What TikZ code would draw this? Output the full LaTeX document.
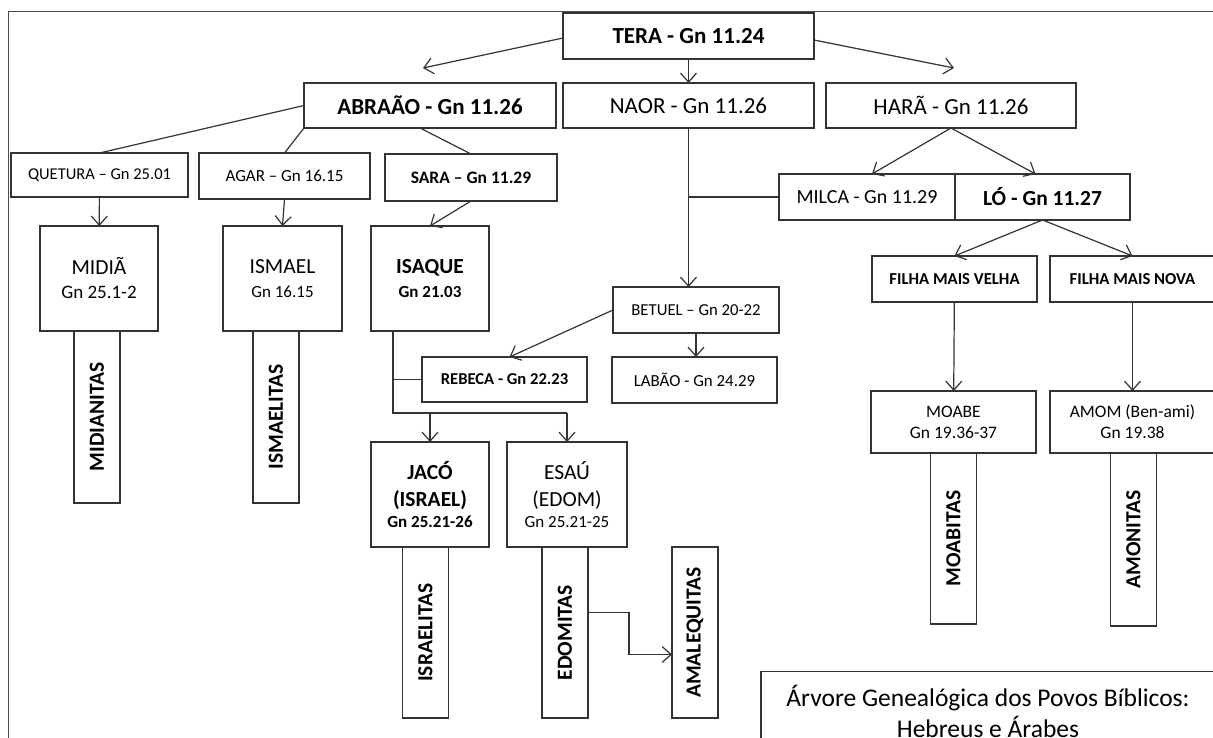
\documentclass[tikz,border=0pt]{standalone}
\usepackage{fontspec}
\setmainfont{Carlito}
\usepackage{graphicx}
\usetikzlibrary{arrows.meta,positioning}
\newcommand\fsz[2]{\fontsize{#1}{#2}\selectfont}
\tikzset{
  box/.style={draw=black!80,line width=1.2pt,inner sep=0pt,outer sep=0pt,align=center,fill=white},
  sz/.style 2 args={minimum width=#1,minimum height=#2},
  bar/.style={box,sz={46}{171},font=\fsz{21.5}{26}\bfseries},
  lnk/.style={draw=black!80,line width=1.2pt},
  arr/.style={lnk,-{Straight Barb[length=9pt,width=16pt]}},
}

\begin{document}
\begin{tikzpicture}[x=1pt,y=-1pt]
\useasboundingbox (0,0) rectangle (1213,738);
\draw[black!70,line width=1pt] (8,12) rectangle (1230,760);

\node[box,sz={251}{46},font=\fsz{23}{28}\bfseries] (tera) at (688.5,36) {TERA - Gn 11.24};
\node[box,sz={252}{45},font=\fsz{23}{28}\bfseries] (abraao) at (430,105.5) {ABRAÃO - Gn 11.26};
\node[box,sz={251}{45},font=\fsz{23}{28}] (naor) at (688.5,105.5) {NAOR - Gn 11.26};
\node[box,sz={250}{45},font=\fsz{23}{28}] (hara) at (951,105.5) {HARÃ - Gn 11.26};

\node[box,sz={177}{44},font=\fsz{16.5}{20}] (quetura) at (99.5,175) {QUETURA – Gn 25.01};
\node[box,sz={171}{46},font=\fsz{17}{20}] (agar) at (284.5,176) {AGAR – Gn 16.15};
\node[box,sz={172}{47},font=\fsz{17.5}{21}\bfseries] (sara) at (471,177.5) {SARA – Gn 11.29};
\node[box,sz={176}{46},font=\fsz{20}{24}] (milca) at (867,197) {MILCA - Gn 11.29};
\node[box,sz={175}{46},font=\fsz{21.5}{26}\bfseries] (lo) at (1042.5,197) {LÓ - Gn 11.27};

\node[box,sz={118}{105},font=\fsz{21.5}{24}] (midia) at (99,278.5) {MIDIÃ\\\fsz{19}{24}Gn 25.1-2};
\node[box,sz={119}{105},font=\fsz{21.5}{24}] (ismael) at (282.5,278.5) {ISMAEL\\\fsz{17}{24}Gn 16.15};
\node[box,sz={118}{105},font=\fsz{21.5}{24}\bfseries] (isaque) at (430,278.5) {ISAQUE\\\fsz{17}{24}Gn 21.03};
\node[box,sz={166}{46},font=\fsz{16.7}{20}] (betuel) at (696,310) {BETUEL – Gn 20-22};
\node[box,sz={165}{46},font=\fsz{16.9}{20}] (labao) at (694.5,380) {LABÃO - Gn 24.29};
\node[box,sz={165}{45},font=\fsz{16.6}{20}\bfseries] (rebeca) at (504.5,379.5) {REBECA - Gn 22.23};
\node[box,sz={165}{46},font=\fsz{16.7}{20}\bfseries] (velha) at (954.5,279) {FILHA MAIS VELHA};
\node[box,sz={165}{46},font=\fsz{16.7}{20}\bfseries] (nova) at (1132.5,279) {FILHA MAIS NOVA};
\node[box,sz={165}{62},font=\fsz{17.5}{21}] (moabe) at (953.5,422) {MOABE\\Gn 19.36-37};
\node[box,sz={165}{62},font=\fsz{17.5}{21}] (amom) at (1132.5,422) {AMOM (Ben-ami)\\Gn 19.38};
\node[box,sz={118}{105},font=\fsz{21.5}{27}\bfseries] (jaco) at (430,494.5) {JACÓ\\(ISRAEL)\\[-6pt]\fsz{17}{21}Gn 25.21-26};
\node[box,sz={120}{105},font=\fsz{21.5}{27}] (esau) at (567,494.5) {ESAÚ\\(EDOM)\\[-6pt]\fsz{17}{21}Gn 25.21-25};

\node[bar,sz={46}{172},below=0pt of midia,xshift=-2pt] (midianitas) {\rotatebox{90}{MIDIANITAS}};
\node[bar,sz={46}{172},below=0pt of ismael,xshift=-6.5pt] (ismaelitas) {\rotatebox{90}{ISMAELITAS}};
\node[bar,below=0pt of jaco,xshift=-4.5pt] (israelitas) {\rotatebox{90}{ISRAELITAS}};
\node[bar,below=0pt of esau,xshift=-2pt] (edomitas) {\rotatebox{90}{EDOMITAS}};
\node[bar] (amalequitas) at (695,632.5) {\rotatebox{90}{AMALEQUITAS}};
\node[bar,below=0pt of moabe] (moabitas) {\rotatebox{90}{MOABITAS}};
\node[bar,sz={46}{173},below=0pt of amom,xshift=1pt] (amonitas) {\rotatebox{90}{AMONITAS}};

\node[box,sz={454}{79},font=\fsz{25.5}{31}] (titulo) at (988,711) {Árvore Genealógica dos Povos Bíblicos:\\Hebreus e Árabes};

\coordinate (abTip) at (423,68);
\coordinate (haTip) at (954,68);
\coordinate (fork) at (393,413);
\draw[arr] ([yshift=-2pt]tera.west) -- (abTip);
\draw[arr] (tera) -- (naor);
\draw[arr] ([yshift=-4pt]tera.east) -- (haTip);
\draw[lnk] (abraao.west) -- (quetura.north);
\draw[lnk] (abraao.south west) -- (agar.north);
\draw[lnk] ([xshift=-10pt]abraao.south) -- (sara.north);
\draw[arr] (quetura) -- (midia);
\draw[arr] (agar.south) -- (ismael.north);
\draw[arr] (sara.south) -- (isaque.north);
\draw[arr] (hara.south) -- ([xshift=5pt]milca.north);
\draw[arr] (hara.south) -- ([xshift=-7pt]lo.north);
\draw[arr] (naor.south) -- (naor.south |- betuel.north);
\draw[lnk] (milca.west) -- (milca.west -| naor.south);
\draw[arr] (betuel.west) -- ([xshift=5pt]rebeca.north);
\draw[arr] (betuel.south) -- (betuel.south |- labao.north);
\draw[lnk] (isaque.south -| fork) -- (fork) -- (fork -| esau.north);
\draw[lnk] (rebeca.west) -- (rebeca.west -| fork);
\draw[arr] (fork -| jaco.north) -- (jaco.north);
\draw[arr] (fork -| esau.north) -- (esau.north);
\draw[arr] (lo.south) -- (velha.north);
\draw[arr] (lo.south) -- (nova.north);
\draw[arr] (velha) -- (moabe);
\draw[arr] (nova) -- (amom);
\draw[arr] ([yshift=20pt]edomitas.east) -- ++(41,0) |- ([yshift=-22pt]amalequitas.west);
\end{tikzpicture}
\end{document}
